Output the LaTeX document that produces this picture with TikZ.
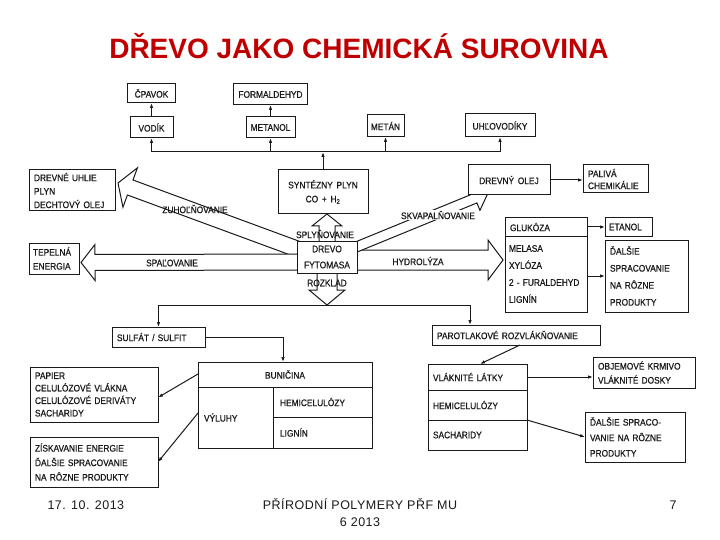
\documentclass[tikz,border=0pt]{standalone}
\usepackage{fontspec}
\setmainfont{Liberation Sans}
\newfontfamily\scan{Liberation Sans}[WordSpace=1.6, FakeStretch=0.88, FakeBold=0.6]
\newfontfamily\footfont{Liberation Sans}[LetterSpace=4]
\usepackage{tikz}
\usetikzlibrary{positioning, arrows.meta, calc}
\definecolor{titlered}{HTML}{C00000}
\definecolor{ink}{HTML}{1A1A1A}
\pgfdeclarelayer{back}
\pgfsetlayers{back,main}

\tikzset{
  tbox/.style={draw=ink, fill=white, line width=1pt, inner sep=0pt, outer sep=0pt,
               text=ink, font={\scan\fontsize{9.5pt}{10pt}\selectfont}},
  lsp/.style={font={\scan\fontsize{9.5pt}{#1}\selectfont}},
  lbl/.style={text=ink, inner sep=1pt, font={\scan\fontsize{9.5pt}{10pt}\selectfont}},
  conn/.style={draw=ink, line width=1pt, -{Latex[length=5pt,width=3.5pt]}},
  hollowarrow/.style={draw=ink, fill=white, line width=1pt, line join=miter},
  foot/.style={text=ink, font={\footfont\fontsize{12.5pt}{15pt}\selectfont}}
}

% wide open arrow: start, tip, shaft half width, head half width, head length
\newcommand{\fatarrow}[5]{%
  \draw[hollowarrow] let \p1=(#1), \p2=(#2),
      \n1={atan2(\y2-\y1,\x2-\x1)}, \n2={veclen(\x2-\x1,\y2-\y1)} in
    {[shift={(\p1)}, rotate=\n1]
      (0,-#3) -- ({\n2-#5},-#3) -- ({\n2-#5},-#4) -- (\n2,0)
      -- ({\n2-#5},#4) -- ({\n2-#5},#3) -- (0,#3) -- cycle};
}

\begin{document}
\begin{tikzpicture}[x=1pt, y=-1pt]
\useasboundingbox (0,0) rectangle (720,540);

\node[anchor=base, text=titlered, font={\bfseries\fontsize{28pt}{30pt}\selectfont}]
  (title) at (359,59) {DŘEVO JAKO CHEMICKÁ SUROVINA};

% syngas products
\node[tbox, minimum width=43pt, minimum height=21pt] (vodik) at (151.5,127.5) {VODÍK};
\node[tbox, minimum width=49pt, minimum height=21pt] (metanol) at (270.5,127.5) {METANOL};
\node[tbox, minimum width=37pt, minimum height=22pt] (metan) at (385.5,126) {METÁN};
\node[tbox, minimum width=70pt, minimum height=23pt] (uhlo) at (500,125.5) {UHĽOVODÍKY};
\node[tbox, minimum width=48pt, minimum height=19pt, above=14pt of vodik] (cpavok) {ČPAVOK};
\node[tbox, minimum width=74pt, minimum height=21pt, above=12pt of metanol] (formal) {FORMALDEHYD};

% centre
\node[tbox, lsp=14pt, align=center, minimum width=90pt, minimum height=44pt]
  (synt) at (323,192) {SYNTÉZNY PLYN\\CO + H\textsubscript{2}};
\node[tbox, lsp=16pt, align=center, minimum width=60pt, minimum height=32pt]
  (drevo) at (327,257) {DREVO\\FYTOMASA};
\node[tbox, lsp=13.5pt, align=left, minimum width=86pt, minimum height=41pt, text width=76pt]
  (uhlie) at (72,190.5) {DREVNÉ UHLIE\\PLYN\\DECHTOVÝ OLEJ};
\node[tbox, lsp=14pt, align=left, minimum width=50pt, minimum height=31pt, text width=42pt]
  (tepel) at (54,258.5) {TEPELNÁ\\ENERGIA};
\node[tbox, minimum width=82pt, minimum height=30pt] (olej) at (509,180) {DREVNÝ OLEJ};
\node[tbox, lsp=12pt, align=left, minimum width=65pt, minimum height=28pt, text width=55pt]
  (paliva) at (615.5,179) {PALIVÁ\\CHEMIKÁLIE};

% hydrolysis products
\node[tbox, align=left, minimum width=82pt, minimum height=18pt, text width=72pt]
  (glu) at (546,227) {GLUKÓZA};
\node[tbox, lsp=17pt, align=left, minimum width=82pt, minimum height=76pt, text width=74pt,
      below=0pt of glu] (sug) {MELASA\\XYLÓZA\\2 - FURALDEHYD\\LIGNÍN};
\node[tbox, align=left, minimum width=47pt, minimum height=18pt, text width=39pt,
      right=18pt of glu] (etanol) {ETANOL};
\node[tbox, lsp=17pt, align=left, minimum width=83pt, minimum height=72pt, text width=73pt]
  (dalsie) at (646.5,276) {ĎALŠIE\\SPRACOVANIE\\NA RÔZNE\\PRODUKTY};

% pulping
\node[tbox, align=left, minimum width=93pt, minimum height=20pt, text width=83pt]
  (sulfat) at (158.5,337) {SULFÁT / SULFIT};
\node[tbox, align=left, minimum width=168pt, minimum height=20pt, text width=158pt]
  (parot) at (516,335) {PAROTLAKOVÉ ROZVLÁKŇOVANIE};
\node[tbox, lsp=12.5pt, align=left, minimum width=128pt, minimum height=55pt, text width=118pt]
  (papier) at (94,394.5) {PAPIER\\CELULÓZOVÉ VLÁKNA\\CELULÓZOVÉ DERIVÁTY\\SACHARIDY};
\node[tbox, lsp=14.5pt, align=left, minimum width=128pt, minimum height=50pt, text width=118pt]
  (zisk) at (94,462) {ZÍSKAVANIE ENERGIE\\ĎALŠIE SPRACOVANIE\\NA RÔZNE PRODUKTY};
\node[tbox, minimum width=174pt, minimum height=25pt] (bun) at (285,374.5) {BUNIČINA};
\node[tbox, align=left, minimum width=75pt, minimum height=61pt, text width=63pt]
  (vyluhy) at (235.5,417.5) {VÝLUHY};
\node[tbox, align=left, minimum width=99pt, minimum height=30pt, text width=85pt]
  (hemia) at (322.5,402) {HEMICELULÓZY};
\node[tbox, align=left, minimum width=99pt, minimum height=31pt, text width=85pt,
      below=0pt of hemia] (lignina) {LIGNÍN};

% steam explosion
\node[tbox, align=left, minimum width=99pt, minimum height=26pt, text width=89pt]
  (vlak) at (477.5,377) {VLÁKNITÉ LÁTKY};
\node[tbox, align=left, minimum width=99pt, minimum height=30pt, text width=89pt,
      below=0pt of vlak] (hemib) {HEMICELULÓZY};
\node[tbox, align=left, minimum width=99pt, minimum height=30pt, text width=89pt,
      below=0pt of hemib] (sach) {SACHARIDY};
\node[tbox, lsp=14pt, align=left, minimum width=102pt, minimum height=31pt, text width=92pt]
  (objem) at (644,372.5) {OBJEMOVÉ KRMIVO\\VLÁKNITÉ DOSKY};
\node[tbox, lsp=15.5pt, align=left, minimum width=100pt, minimum height=50pt, text width=90pt]
  (dalsieb) at (635,437) {ĎALŠIE SPRACO-\\VANIE NA RÔZNE\\PRODUKTY};

% process labels
\node[lbl] (zuhlbl) at (195,209) {ZUHOĽŇOVANIE};
\node[lbl] (splylbl) at (325,234) {SPLYŇOVANIE};
\node[lbl, fill=white] (skvlbl) at (438,215) {SKVAPALŇOVANIE};
\node[lbl] (spallbl) at (172,263) {SPAĽOVANIE};
\node[lbl] (hydlbl) at (418,261) {HYDROLÝZA};
\node[lbl] (rozlbl) at (327,283) {ROZKLAD};

% wide arrows out of the wood box
\coordinate (rozk) at ($(drevo.south)+(0,32)$);
\begin{pgfonlayer}{back}
  \fill[white] (0,0) rectangle (720,540);
  \fatarrow{drevo.center}{drevo.center |- synt.south}{8}{15}{12}
  \fatarrow{drevo.center}{rozk}{10}{18}{15}
  \fatarrow{$(drevo.center)+(0,3)$}{$(uhlie.east)+(3,-7.5)$}{8}{21}{13}
  \fatarrow{$(drevo.center)+(0,5)$}{$(tepel.east)+(2,4)$}{8}{18}{14}
  \fatarrow{$(drevo.center)+(0,3)$}{$(sug.west)+(-2,-14)$}{10}{20}{15}
  \fatarrow{$(drevo.center)+(0,2)$}{$(olej.south west)+(20,-2)$}{5}{13}{14}
\end{pgfonlayer}

% syngas bus
\coordinate (bus) at (0,152);
\draw[draw=ink, line width=1pt] (vodik.south |- bus) -- (uhlo.south |- bus);
\draw[conn] (synt.north) -- (synt.north |- bus);
\foreach \n in {vodik, metanol, metan, uhlo}
  \draw[conn] (\n.south |- bus) -- (\n.south);
\draw[conn] (vodik.north) -- (cpavok.south);
\draw[conn] (metanol.north) -- (formal.south);

\draw[conn] (olej.east) -- (olej.east -| paliva.west);
\draw[conn] (glu.east) -- (etanol.west);
\draw[conn] (sug.east |- dalsie.west) -- (dalsie.west);

% decomposition
\coordinate (parotin) at ($(parot.north west)+(38,0)$);
\coordinate (bunin) at ($(bun.north west)+(85,0)$);
\draw[conn] (rozk) -| (sulfat.north);
\draw[conn] (rozk) -| (parotin);
\draw[conn] (sulfat.east) -| (bunin);
\draw[conn] ($(bun.north west)+(0,12)$) -- ($(papier.east)+(0,3)$);
\draw[conn] ($(vyluhy.north west)+(0,26)$) -- (zisk.east);
\draw[conn] ($(parot.south west)+(88,0)$) -- ($(vlak.north west)+(52,0)$);
\draw[conn] (vlak.east) -- (vlak.east -| objem.west);
\draw[conn] (hemib.south east) -- (dalsieb.west);

% footer
\node[foot, anchor=base west] (date) at (44,509) {17. 10. 2013};
\node[foot, anchor=base] (course) at (360,509) {PŘÍRODNÍ POLYMERY PŘF MU};
\node[foot, anchor=base] (year) at (360,526) {6 2013};
\node[foot, anchor=base] (page) at (673,509) {7};
\end{tikzpicture}
\end{document}
